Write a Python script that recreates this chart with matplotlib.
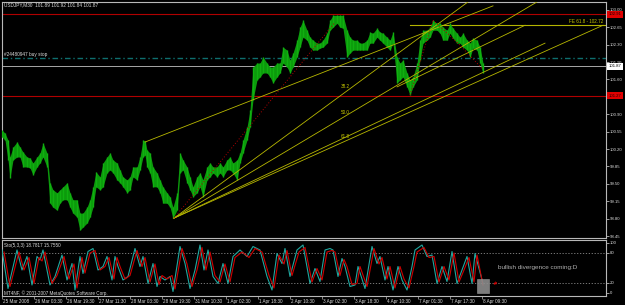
import matplotlib
matplotlib.use('Agg')
import matplotlib.pyplot as plt
from matplotlib.transforms import blended_transform_factory as btf

# ---------------- data ----------------
bars = [0,3,6,8,11,15,18,21,25,28,31,35,38,41,45,48,51,55,58,61,65,68,71,75,78,81,85,88,91,94,98,
        101,105,108,111,115,118,121,125,128,131,135,138,141,143,145,148,151,155,158,161,165,168,171,
        175,178,181,185,188,191,195,198,201,205,208,211,215,218,221,225,228,231,235,238,241,245,248,
        251,255,258,261,265,268,271,275,278,281,285,288,291,295,298,301,305,308,311,315,318,321,325,
        328,331,335,338,341,345,348,351,355,358,361,365,368,371,375,378,381,385,388,391,395,398,401,
        405,408,411,415,418,421,425,428,431,435,438,441,445,448,451,455,458,461,465,468,471,475,478,481]
highs = [100.58,100.52,100.38,100.04,100.24,100.34,100.24,100.14,100.04,100.02,99.92,100.04,100.12,
         100.32,100.12,99.52,99.38,99.32,99.38,99.44,99.52,99.32,99.18,99.18,98.91,98.91,99.03,99.18,
         99.44,99.74,99.64,99.92,100.04,100.12,99.98,99.92,99.78,99.64,99.58,99.64,99.84,99.84,100.04,
         100.38,100.36,100.18,100.12,99.84,99.72,99.58,99.44,99.32,99.24,99.03,99.32,100.12,99.98,99.84,
         99.64,99.44,99.64,99.72,99.58,99.84,99.92,99.84,99.84,99.92,99.84,99.98,100.04,99.92,99.98,
         100.12,100.38,100.64,100.98,101.85,101.93,101.93,102.05,101.93,101.85,101.85,101.93,101.93,
         102.25,102.19,101.99,102.13,102.39,102.65,102.79,102.59,102.45,102.39,102.33,102.33,102.39,
         102.53,102.79,102.89,102.89,102.89,102.89,102.59,102.45,102.39,102.39,102.33,102.33,102.39,
         102.55,102.53,102.63,102.55,102.53,102.45,102.39,102.55,102.05,101.93,101.99,101.73,101.59,
         101.65,101.93,102.39,102.59,102.59,102.65,102.79,102.73,102.73,102.65,102.59,102.73,102.63,
         102.53,102.45,102.53,102.39,102.33,102.43,102.39,102.25,101.93]
lows = [100.44,100.38,99.98,99.62,99.98,100.04,100.04,99.84,99.84,99.82,99.68,99.84,99.92,100.04,
        99.84,99.11,99.03,98.97,99.11,99.18,99.18,99.03,98.91,98.83,98.57,98.63,98.71,98.83,99.03,
        99.44,99.38,99.44,99.72,99.78,99.72,99.58,99.52,99.44,99.32,99.38,99.64,99.58,99.78,100.04,
        100.08,99.84,99.72,99.44,99.44,99.32,99.11,99.11,99.03,98.81,98.97,99.72,99.78,99.52,99.38,
        99.24,99.32,99.44,99.24,99.58,99.64,99.72,99.64,99.72,99.64,99.78,99.78,99.72,99.58,99.92,
        100.12,100.38,100.64,101.19,101.59,101.65,101.73,101.73,101.65,101.53,101.65,101.73,101.93,
        101.85,101.73,101.85,102.05,102.25,102.45,102.39,102.25,102.19,102.19,102.23,102.25,102.33,
        102.59,102.65,102.73,102.65,102.63,102.05,102.13,102.19,102.19,102.19,102.19,102.19,102.33,
        102.33,102.45,102.39,102.33,102.25,102.19,102.33,101.53,101.59,101.65,101.45,101.29,101.45,
        101.59,101.99,102.33,102.39,102.45,102.59,102.59,102.53,102.39,102.39,102.53,102.43,102.33,
        102.33,102.25,102.19,102.05,102.23,102.19,101.93,101.73]

price_ticks = [103.00,102.65,102.30,101.95,101.60,101.25,100.90,100.55,100.20,99.85,99.50,99.15,98.80,98.45]
time_tick_bars = [0,32,64,96,128,160,192,224,256,288,320,352,384,416,448,480]
time_labels = ["25 Mar 2008","26 Mar 03:30","26 Mar 19:30","27 Mar 11:30","28 Mar 03:30",
               "28 Mar 19:30","31 Mar 10:30","1 Apr 02:30","1 Apr 18:30","2 Apr 10:30",
               "3 Apr 02:30","3 Apr 18:30","4 Apr 10:30","7 Apr 01:30","7 Apr 17:30","8 Apr 09:30"]

red_levels = [102.91, 101.27]
last_price = 101.87
buy_stop = 102.03
fe_level = 102.70

# trend / fan lines: (bar0, price0, bar1, price1)
yellow_lines = [(143,100.34,491,103.08),
                (172,98.81,466,103.16),
                (172,98.81,535,103.16),
                (172,98.81,543,102.33),
                (172,98.81,601,102.69),
                (395,101.45,523,102.69)]
fib_labels = ["38.2","50.0","61.8"]
fib_label_prices = [101.45,100.94,100.46]
zigzag = [(172,98.81,333,102.75),(408,101.29,431,102.79),(431,102.79,455,102.35),(455,102.35,481,101.80)]

stoch_k_bars = [0,6,15,20,25,30,35,38,41,48,53,60,65,70,73,78,81,86,91,96,101,105,110,113,116,121,126,
                133,138,141,146,151,155,158,163,168,171,178,183,188,193,198,202,206,211,216,221,226,231,
                238,245,251,258,265,270,275,280,283,288,295,301,308,313,318,323,328,331,336,340,343,348,
                353,356,363,370,375,378,383,386,391,396,400,405,410,413,420,425,430,435,440,445,450,455,
                460,465,470,473,481]
stoch_k = [86,9,86,46,73,16,73,66,86,16,33,76,26,59,6,73,39,83,89,46,53,73,26,73,53,26,33,89,53,73,
           19,59,13,33,26,33,3,93,59,9,46,96,46,86,33,19,59,19,73,86,73,93,86,33,6,79,59,89,33,86,
           96,19,49,23,86,89,86,33,69,53,13,16,53,9,93,59,73,26,53,6,53,26,6,53,86,96,73,76,19,53,
           23,83,19,46,73,19,79,18.8]
stoch_d_bars = [2,8,17,22,27,32,37,40,43,50,55,62,67,72,75,80,83,88,93,98,103,107,112,115,118,123,128,
                135,140,143,148,153,157,160,165,170,173,180,185,190,195,200,204,208,213,218,223,228,233,
                240,247,253,260,267,272,277,282,285,290,297,303,310,315,320,325,330,333,338,342,345,350,
                355,358,365,372,377,380,385,388,393,398,402,407,412,415,422,427,432,437,442,447,452,457,
                462,467,472,475,481]
stoch_d = [82,13,82,46,71,19,71,64,82,19,35,73,28,58,10,71,40,80,85,46,53,71,28,71,53,28,35,85,53,71,
           22,58,17,35,28,35,8,89,58,13,46,91,46,82,35,22,58,22,71,82,71,89,82,35,10,76,58,85,35,82,
           91,22,49,26,82,85,82,35,67,53,17,19,53,13,89,58,71,28,53,10,53,28,10,53,82,91,71,73,22,53,
           26,80,22,46,71,22,76,15.8]
stoch_levels = [80, 20]
stoch_ticks = [100, 80, 20, 0]

# ---------------- figure ----------------
W, H = 625, 305
fig = plt.figure(figsize=(W/100, H/100), dpi=100, facecolor='black')
ax = fig.add_axes([2/W, 1-238/H, 604/W, 236/H], facecolor='black')
ax2 = fig.add_axes([2/W, 1-296/H, 604/W, 56/H], facecolor='black')

FONT = 'Liberation Sans'
FS = 3.1
frame_c = '#b8b8b8'
txt_c = '#dcdcdc'

for a in (ax, ax2):
    for s in a.spines.values():
        s.set_color(frame_c)
        s.set_linewidth(0.8)
    a.set_xlim(0, 604)

ax.set_ylim(98.41, 103.158)
ax2.set_ylim(-6, 106)

# price bars
ax.fill_between(bars, lows, highs, color='#0c9a0c', lw=0, zorder=3)
ax.vlines(bars, lows, highs, color='#10b010', lw=1.0, zorder=3)

# horizontal levels
for lv in red_levels:
    ax.axhline(lv, color='#b00000', lw=0.8, zorder=2)
ax.axhline(last_price, color='#a8a8a8', lw=0.7, zorder=2)
ax.axhline(buy_stop, color='#0e6e6e', lw=1.0, ls=(0, (4, 2, 1, 2)), zorder=2)
ax.plot([408, 604], [fe_level, fe_level], color='#b4b400', lw=0.8, zorder=2)

for (b0, p0, b1, p1) in yellow_lines:
    ax.plot([b0, b1], [p0, p1], color='#b8b800', lw=0.6, zorder=4)
for (b0, p0, b1, p1) in zigzag:
    ax.plot([b0, b1], [p0, p1], color='#b00000', lw=0.7, ls=(0, (1, 2)), zorder=4)

for lab, pr in zip(fib_labels, fib_label_prices):
    ax.text(339, pr, lab, color='#c8c800', fontsize=3.3, family=FONT, va='center', ha='left', zorder=5)

ax.text(601, fe_level + 0.01, "FE 61.8 - 102.72", color='#c8c800', fontsize=3.3, family=FONT,
        va='bottom', ha='right', zorder=5)
ax.text(2, buy_stop + 0.03, "#24480947 buy stop", color=txt_c, fontsize=3.4, family=FONT,
        va='bottom', ha='left', zorder=5)
ax.text(2, 103.10, "USDJPY,M30  101.89 101.92 101.84 101.87", color=txt_c, fontsize=3.4,
        family=FONT, va='center', ha='left', zorder=5)

# price axis
ax.yaxis.tick_right()
ax.set_yticks(price_ticks)
ax.set_yticklabels(["" if abs(v - 101.25) < 1e-6 else f"{v:.2f}" for v in price_ticks])
ax.tick_params(axis='y', colors=txt_c, length=2, width=0.5, pad=0.8, labelsize=FS)
for lbl in ax.get_yticklabels():
    lbl.set_family(FONT)
ax.set_xticks([])

tr = btf(ax.transAxes, ax.transData)
for lv, fc, tc in [(red_levels[0], '#e00000', '#200000'), (red_levels[1], '#e00000', '#200000'),
                   (last_price, '#ffffff', '#000000')]:
    ax.text(1.0045, lv, f"{lv:.2f}", transform=tr, color=tc, fontsize=FS, family=FONT,
            va='center', ha='left', zorder=6, clip_on=False,
            bbox=dict(boxstyle='square,pad=0.35', fc=fc, ec='none'))

# stochastic
ax2.plot(stoch_k_bars, stoch_k, color='#20a8a0', lw=0.8, zorder=3)
ax2.plot(stoch_d_bars, stoch_d, color='#d00000', lw=0.8, zorder=3)
for lv in stoch_levels:
    ax2.axhline(lv, color='#8a8a8a', lw=0.6, ls=(0, (1.5, 2)), zorder=2)
ax2.yaxis.tick_right()
ax2.set_yticks(stoch_ticks)
ax2.set_yticklabels([str(v) for v in stoch_ticks])
ax2.tick_params(axis='y', colors=txt_c, length=2, width=0.5, pad=0.8, labelsize=FS)
for lbl in ax2.get_yticklabels():
    lbl.set_family(FONT)
ax2.set_xticks(time_tick_bars)
ax2.set_xticklabels([])
ax2.tick_params(axis='x', colors=frame_c, length=2, width=0.5, direction='out')
tr2 = btf(ax2.transData, ax2.transAxes)
for b, lab in zip(time_tick_bars, time_labels):
    ax2.text(b + 1, -0.06, lab, transform=tr2, color=txt_c, fontsize=3.3, family=FONT,
             va='top', ha='left', clip_on=False)

ax2.text(2, 96, "Sto(5,3,3) 18.7817 15.7550", color=txt_c, fontsize=3.3, family=FONT,
         va='center', ha='left', zorder=5)
ax2.text(2, -1, "MT4NF, \u00a9 2001-2007 MetaQuotes Software Corp.", color=txt_c, fontsize=3.3,
         family=FONT, va='center', ha='left', zorder=5)
ax2.text(496, 50, "bullish divergence coming:D", color='#b0b0b0', fontsize=4.6, family=FONT,
         va='center', ha='left', zorder=5)
ax2.add_patch(plt.Rectangle((475, 1), 12, 28, fc='#8c8c8c', ec='#a0a0a0', lw=0.4, alpha=0.9, zorder=4))
ax2.annotate("", xy=(489, 14), xytext=(497, 24),
             arrowprops=dict(arrowstyle='->', color='#e00000', lw=0.6, mutation_scale=4), zorder=5)

fig.savefig('out.png', dpi=100, facecolor='black')
